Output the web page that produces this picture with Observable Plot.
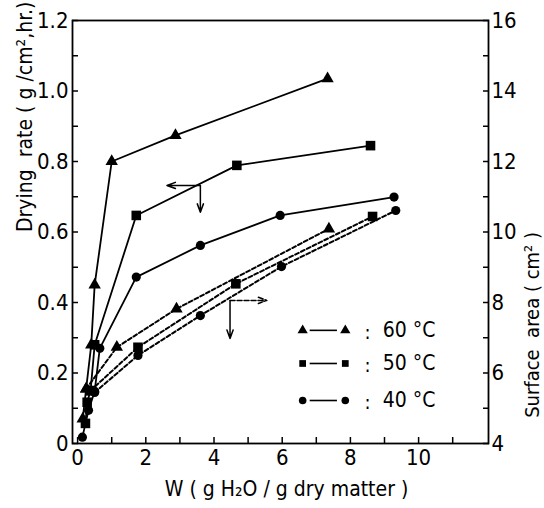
<!DOCTYPE html>
<html><head><meta charset="utf-8">
<script src="https://cdn.jsdelivr.net/npm/d3@7"></script>
<script src="https://cdn.jsdelivr.net/npm/@observablehq/plot@0.6"></script>
<style>
html,body{margin:0;padding:0;background:#fff;}
</style></head><body><div id="chart"></div>
<script>
// ---- Data: W (g H2O / g dry matter) vs drying rate (g/cm2.hr) ----
const w60 = [0.15, 0.25, 0.4, 0.5, 1.0, 2.87, 7.33];
const rate60 = [0.07, 0.155, 0.28, 0.45, 0.80, 0.874, 1.035];
const w50 = [0.23, 0.28, 0.38, 0.5, 1.72, 4.67, 8.59];
const rate50 = [0.057, 0.117, 0.15, 0.28, 0.647, 0.789, 0.845];
const w40 = [0.14, 0.32, 0.5, 0.65, 1.72, 3.6, 5.94, 9.28];
const rate40 = [0.018, 0.094, 0.148, 0.27, 0.472, 0.562, 0.647, 0.699];

// ---- Data: W vs surface area (cm2) ----
const wA60 = [0.25, 1.15, 2.9, 7.37];
const area60 = [5.55, 6.73, 7.82, 10.09];
const wA50 = [0.38, 1.77, 4.64, 8.65];
const area50 = [5.5, 6.73, 8.53, 10.44];
const wA40 = [0.5, 1.77, 3.6, 5.98, 9.33];
const area40 = [5.45, 6.5, 7.63, 9.02, 10.61];

// ---- Axis ticks ----
const xTicks = [0,1,2,3,4,5,6,7,8,9,10,11];
const xTickLabels = ["0","","2","","4","","6","","8","","10",""];
const rateTicks = [0,0.1,0.2,0.3,0.4,0.5,0.6,0.7,0.8,0.9,1.0,1.1,1.2];
const rateTickLabels = ["0","","0.2","","0.4","","0.6","","0.8","","1.0","","1.2"];
const areaTicks = [4,5,6,7,8,9,10,11,12,13,14,15,16];
const areaTickLabels = ["4","","6","","8","","10","","12","","14","","16"];

// ---- Legend ----
const legendLabels = ["60 °C", "50 °C", "40 °C"];
const legendSymbols = ["triangle", "square", "circle"];

// ---- Annotation arrows (axis units) ----
const rateArrows = [{x1: 3.6, y1: 0.732, x2: 2.62, y2: 0.732}, {x1: 3.6, y1: 0.732, x2: 3.6, y2: 0.656}];
const areaArrowRight = [{x1: 4.47, y1: 0.406, x2: 5.55, y2: 0.406}];
const areaArrowDown = [{x1: 4.47, y1: 0.406, x2: 4.47, y2: 0.298}];

// area -> left (rate) axis units
const areaToRate = d3.scaleLinear().domain([4, 16]).range([0, 1.2]);

const pts = (ws, vs) => ws.map((w, i) => ({w, v: vs[i]}));
const ptsA = (ws, vs) => ws.map((w, i) => ({w, v: areaToRate(vs[i])}));

const s60 = pts(w60, rate60), s50 = pts(w50, rate50), s40 = pts(w40, rate40);
const a60 = ptsA(wA60, area60), a50 = ptsA(wA50, area50), a40 = ptsA(wA40, area40);

const legendRows = legendLabels.map((label, i) => ({label, symbol: legendSymbols[i], v: [0.321, 0.227, 0.122][i]}));
const LEG = {m1: 6.6, m2: 7.85, l1: 6.82, l2: 7.62, colon: 8.5, text: 8.95};

const font = "'DejaVu Sans Condensed', 'DejaVu Sans', sans-serif";
const FS = 22;
const symR = {triangle: 4.6, square: 5.4, circle: 4.6};

const lineOpts = {x: "w", y: "v", stroke: "black", strokeWidth: 1.8};
const dashOpts = {x: "w", y: "v", stroke: "black", strokeWidth: 2, strokeDasharray: "4,2.5"};
const dotOpts = (sym) => ({x: "w", y: "v", symbol: () => sym, fill: "black", r: symR[sym]});

const plot = Plot.plot({
  width: 544, height: 508,
  marginLeft: 72, marginRight: 56, marginTop: 20, marginBottom: 65,
  x: {domain: [-0.15, 12.05]},
  y: {domain: [0, 1.2]},
  symbol: {type: "identity"},
  style: {fontFamily: font, fontSize: FS + "px", background: "white", color: "black", overflow: "visible"},
  marks: [
    Plot.axisX({ticks: xTicks, tickSize: -6, tickPadding: 12, tickFormat: (d) => xTickLabels[xTicks.indexOf(Math.round(d))], fontSize: FS, label: null, strokeWidth: 1.5}),
    Plot.axisY({anchor: "left", ticks: rateTicks, tickSize: -6, tickPadding: 10, tickFormat: (d) => rateTickLabels[Math.round(d * 10)], fontSize: FS, label: null, strokeWidth: 1.5}),
    Plot.axisY({anchor: "right", ticks: areaTicks.map(areaToRate), tickSize: -6, tickPadding: 9, tickFormat: (d) => areaTickLabels[Math.round(areaToRate.invert(d)) - 4], fontSize: FS, label: null, strokeWidth: 1.5}),
    Plot.frame({stroke: "black", strokeWidth: 1.8}),
    // drying rate (solid)
    Plot.line(s60, lineOpts), Plot.line(s50, lineOpts), Plot.line(s40, lineOpts),
    // surface area (dashed)
    Plot.line(a60, dashOpts), Plot.line(a50, dashOpts), Plot.line(a40, dashOpts),
    Plot.dot(s60, dotOpts("triangle")), Plot.dot(s50, dotOpts("square")), Plot.dot(s40, dotOpts("circle")),
    Plot.dot(a60, dotOpts("triangle")), Plot.dot(a50, dotOpts("square")), Plot.dot(a40, dotOpts("circle")),
    // arrows
    Plot.arrow(rateArrows, {x1: "x1", y1: "y1", x2: "x2", y2: "y2", stroke: "black", strokeWidth: 1.5, headLength: 9, headAngle: 40}),
    Plot.arrow(areaArrowRight, {x1: "x1", y1: "y1", x2: "x2", y2: "y2", stroke: "black", strokeWidth: 1.5, strokeDasharray: "5,2", headLength: 9, headAngle: 40}),
    Plot.arrow(areaArrowDown, {x1: "x1", y1: "y1", x2: "x2", y2: "y2", stroke: "black", strokeWidth: 1.5, headLength: 9, headAngle: 40}),
    // legend
    Plot.ruleY(legendRows, {y: "v", x1: LEG.l1, x2: LEG.l2, stroke: "black", strokeWidth: 1.6}),
    Plot.dot(legendRows, {x: () => LEG.m1, y: "v", symbol: "symbol", fill: "black", r: 3.8}),
    Plot.dot(legendRows, {x: () => LEG.m2, y: "v", symbol: "symbol", fill: "black", r: 3.8}),
    Plot.text(legendRows, {x: () => LEG.colon, y: "v", text: () => ":", fontSize: FS - 2, dy: 2}),
    Plot.text(legendRows, {x: () => LEG.text, y: "v", text: "label", textAnchor: "start", fontSize: FS - 1}),
    // axis titles
    Plot.text(["Drying  rate ( g /cm²,hr.)"], {frameAnchor: "left", dx: -47, rotate: -90, fontSize: FS - 1}),
    Plot.text(["Surface  area ( cm² )"], {frameAnchor: "right", dx: 44, rotate: -90, fontSize: FS - 2}),
    Plot.text(["W ( g H₂O / g dry matter )"], {frameAnchor: "bottom", dx: 6, dy: 52, fontSize: FS - 1})
  ]
});
document.getElementById("chart").appendChild(plot);
</script></body></html>
